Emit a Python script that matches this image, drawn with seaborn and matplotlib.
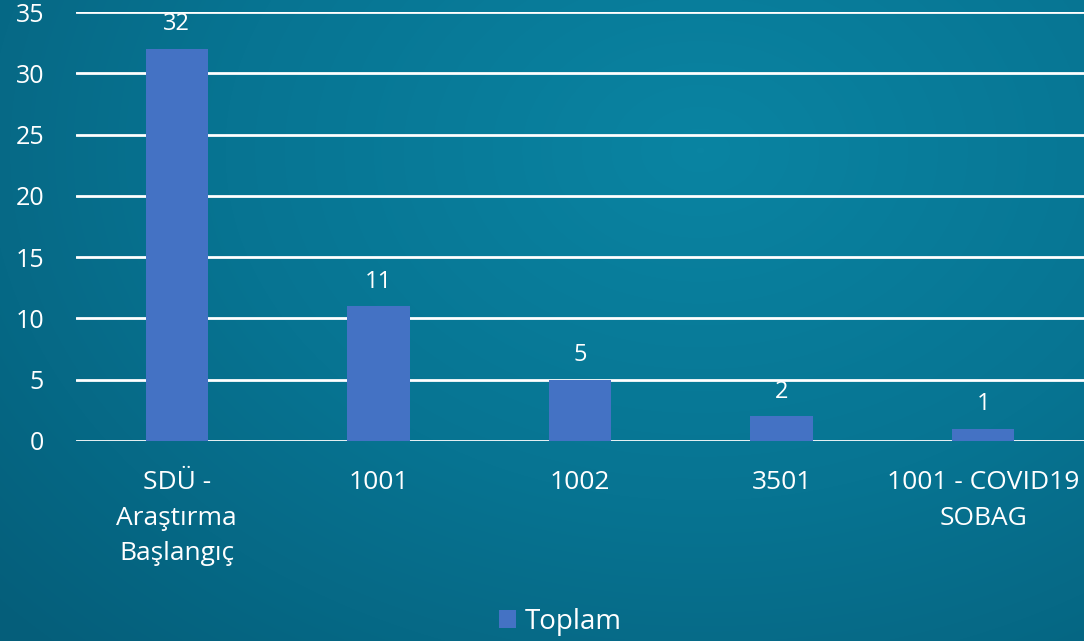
import numpy as np
import matplotlib
matplotlib.use("Agg")
import matplotlib.pyplot as plt
import seaborn as sns
from matplotlib.colors import LinearSegmentedColormap

categories = ["SDÜ -\nAraştırma\nBaşlangıç", "1001", "1002", "3501", "1001 - COVID19\nSOBAG"]
values = [32, 11, 5, 2, 1]
series_name = "Toplam"
yticks = [0, 5, 10, 15, 20, 25, 30, 35]

sns.set_theme(style="white")
plt.rcParams['font.family'] = ['Open Sans', 'DejaVu Sans']

W, H = 1084, 641
fig = plt.figure(figsize=(W / 100, H / 100), dpi=100)

# background radial gradient
bg = fig.add_axes([0, 0, 1, 1], zorder=-10)
yy, xx = np.mgrid[0:H, 0:W]
cx, cy = 700, 150
r = np.sqrt(((xx - cx) / 950.0) ** 2 + ((yy - cy) / 700.0) ** 2)
r = np.clip(r, 0, 1)
cmap = LinearSegmentedColormap.from_list("bg", ["#0a84a2", "#077492", "#055e7a"])
bg.imshow(r, cmap=cmap, vmin=0, vmax=1, aspect="auto", extent=[0, 1, 0, 1], origin="upper")
bg.axis("off")

ax = fig.add_axes([76 / W, 1 - 441 / H, 1 - 76 / W, (441 - 12) / H])
ax.set_facecolor("none")
sns.barplot(x=categories, y=values, color="#4472C4", width=0.31, label=series_name,
            ax=ax, saturation=1, zorder=3, linewidth=0, legend=False)
ax.set_ylim(0, 35)
ax.set_yticks(yticks)
ax.set_yticklabels([str(t) for t in yticks], color="white", fontsize=18)
ax.set_xlim(-0.5, len(categories) - 0.5)
ax.tick_params(axis="x", colors="white", labelsize=19, length=0, pad=21)
ax.tick_params(axis="y", length=0, pad=23)
for lab in ax.get_xticklabels():
    lab.set_linespacing(1.55)
ax.yaxis.grid(True, color="white", linewidth=2, zorder=1)
ax.set_axisbelow(True)
for s in ax.spines.values():
    s.set_visible(False)
ax.set_xlabel("")
ax.set_ylabel("")
if ax.get_legend() is not None:
    ax.get_legend().remove()

for c in ax.containers:
    ax.bar_label(c, labels=[str(v) for v in values], color="white", fontsize=17, padding=9)

handles = [ax.patches[0]]
fig.legend(handles, [series_name], loc="center", bbox_to_anchor=(0.517, 0.03), frameon=False,
           fontsize=20, labelcolor="white", handlelength=0.6, handleheight=0.6,
           handletextpad=0.3)

fig.savefig("out.png", dpi=100)
